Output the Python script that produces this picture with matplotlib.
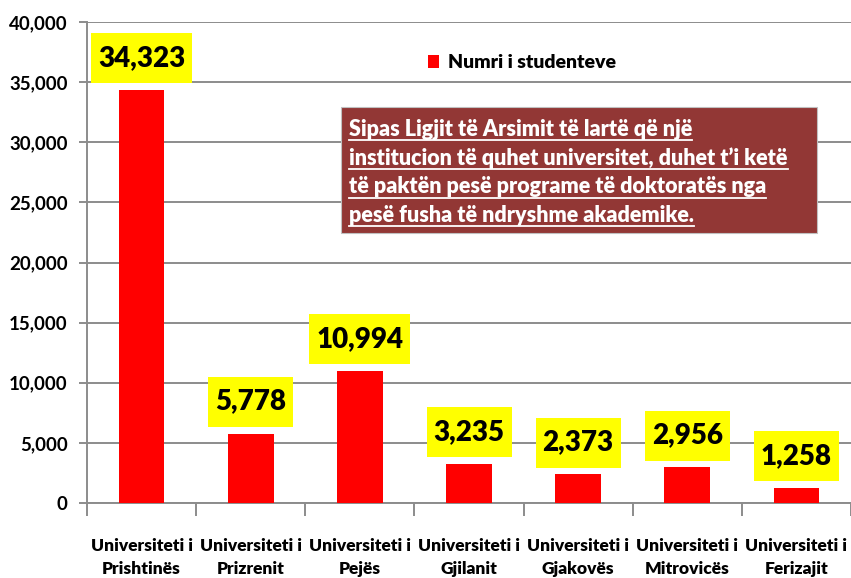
import matplotlib
matplotlib.use("Agg")
import matplotlib.pyplot as plt
from matplotlib.patches import Rectangle
from matplotlib.ticker import FuncFormatter, FixedLocator

plt.rcParams['font.family'] = ['Lato', 'DejaVu Sans']
plt.rcParams['font.weight'] = 'bold'

cities = ["Prishtinës", "Prizrenit", "Pejës", "Gjilanit", "Gjakovës", "Mitrovicës", "Ferizajit"]
students = [34323, 5778, 10994, 3235, 2373, 2956, 1258]
series_name = "Numri i studenteve"
note_lines = [
    "Sipas Ligjit të Arsimit të lartë që një",
    "institucion të quhet universitet, duhet t’i ketë",
    "të paktën pesë programe të doktoratës nga",
    "pesë fusha të ndryshme akademike.",
]

W, H = 851, 578
fig = plt.figure(figsize=(W / 100, H / 100), dpi=100)
ax = fig.add_axes([87 / W, 1 - 503 / H, (851 - 87) / W, (503 - 22) / H])

x = list(range(len(cities)))
bars = ax.bar(x, students, width=0.42, color="#ff0000", label=series_name, zorder=3)

ax.set_xlim(-0.5, len(cities) - 0.5)
ax.set_ylim(0, 40000)
ax.set_yticks(range(0, 40001, 5000))
ax.yaxis.set_major_formatter(FuncFormatter(lambda v, p: f"{int(v):,}"))
ax.grid(axis="y", color="#8c8c8c", linewidth=1.4, zorder=0)

for s in ["top", "right"]:
    ax.spines[s].set_visible(False)
for s in ["left", "bottom"]:
    ax.spines[s].set_color("#8c8c8c")
    ax.spines[s].set_linewidth(1.4)

ax.tick_params(axis="y", length=6, width=1.4, color="#8c8c8c", labelsize=13.5, pad=8)
ax.set_xticks(x)
ax.set_xticklabels([f"Universiteti i\n{c}" for c in cities], fontsize=12.5,
                   fontweight="heavy", linespacing=1.55)
ax.tick_params(axis="x", which="major", length=0, pad=25)
ax.xaxis.set_minor_locator(FixedLocator([i - 0.5 for i in range(len(cities) + 1)]))
ax.tick_params(axis="x", which="minor", length=9, width=1.4, color="#8c8c8c")

labels = []
for b, v in zip(bars, students):
    a = ax.annotate(f"{v:,}", (b.get_x() + b.get_width() / 2, v), xytext=(0, 23),
                    textcoords="offset points", ha="center", va="center",
                    fontsize=20, fontweight="heavy", color="black", zorder=7,
                    annotation_clip=False)
    labels.append(a)

leg = ax.legend(loc="upper left", bbox_to_anchor=(410 / W, 1 - 37 / H),
                bbox_transform=fig.transFigure, frameon=False, fontsize=14,
                handlelength=0.6, handleheight=0.6, handletextpad=0.45)
for t in leg.get_texts():
    t.set_fontweight("heavy")

# note box
fig.patches.append(Rectangle((341 / W, 1 - 233 / H), (817 - 341) / W, (233 - 107) / H,
                             transform=fig.transFigure, fc="#923735", ec="#c0c0c0",
                             lw=0.8, zorder=10))
texts = []
y0 = 129
for i, line in enumerate(note_lines):
    t = fig.text(349 / W, 1 - (y0 + i * 28.8) / H, line, color="white", fontsize=15.5,
                 fontweight="heavy", va="center", ha="left", zorder=11)
    texts.append(t)

fig.canvas.draw()
r = fig.canvas.get_renderer()
for t in texts:
    bb = t.get_window_extent(r)
    yl = bb.y0 - 0.5
    fig.add_artist(plt.Line2D([bb.x0 / W, bb.x1 / W], [yl / H, yl / H],
                              transform=fig.transFigure, color="white", lw=1.3, zorder=12))

inv = ax.transData.inverted()
for a in labels:
    bb = a.get_window_extent(r)
    cx = (bb.x0 + bb.x1) / 2
    cy = (bb.y0 + bb.y1) / 2
    w = bb.width + 14
    h = 50
    (dx0, dy0) = inv.transform((cx - w / 2, cy - h / 2))
    (dx1, dy1) = inv.transform((cx + w / 2, cy + h / 2))
    ax.add_patch(Rectangle((dx0, dy0), dx1 - dx0, dy1 - dy0, fc="#ffff00", ec="none",
                           zorder=6, clip_on=False))

fig.savefig("out.png", dpi=100)
